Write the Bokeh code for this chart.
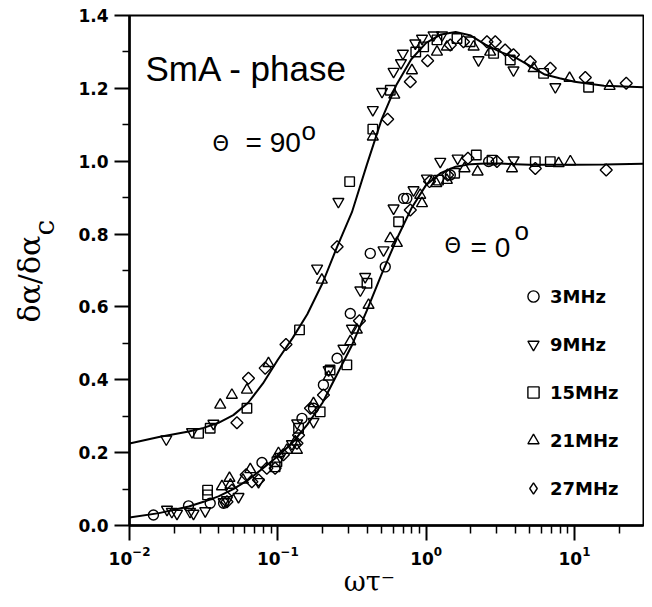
import math
from bokeh.plotting import figure
from bokeh.layouts import row
from bokeh.models import (FixedTicker, PrintfTickFormatter, LogTickFormatter, Label,
                          Legend, LegendItem)
from bokeh.embed import file_html
from bokeh.resources import INLINE

# ---------------- data ----------------
# fitted curves
curve_x = [0.01, 0.0158, 0.0251, 0.0316, 0.0398, 0.0501, 0.0631, 0.0794, 0.1, 0.126,
           0.158, 0.2, 0.251, 0.316, 0.398, 0.501, 0.631, 0.794, 1.0, 1.26, 1.58, 2.0,
           2.51, 3.16, 3.98, 5.01, 6.31, 7.94, 10.0, 15.8, 29.2]
fit_90 = [0.225, 0.243, 0.258, 0.268, 0.282, 0.303, 0.337, 0.39, 0.455, 0.515, 0.58,
          0.665, 0.765, 0.86, 0.99, 1.115, 1.21, 1.28, 1.325, 1.348, 1.355, 1.345, 1.32,
          1.30, 1.285, 1.262, 1.238, 1.228, 1.218, 1.207, 1.203]
fit_0 = [0.022, 0.034, 0.052, 0.065, 0.08, 0.10, 0.125, 0.157, 0.19, 0.228, 0.277,
         0.337, 0.415, 0.495, 0.59, 0.69, 0.785, 0.87, 0.935, 0.968, 0.985, 0.992, 0.994,
         0.994, 0.992, 0.99, 0.99, 0.99, 0.99, 0.991, 0.993]

# 3 MHz (circles), theta = 0
f3_x_0 = [0.0145, 0.0250, 0.0350, 0.0431, 0.0782, 0.1455, 0.174, 0.203, 0.251, 0.308,
          0.420, 0.530, 0.705, 0.741, 1.455, 2.64]
f3_y_0 = [0.029, 0.054, 0.061, 0.061, 0.173, 0.294, 0.322, 0.386, 0.459, 0.582,
          0.747, 0.710, 0.898, 0.898, 0.962, 0.999]

# 9 MHz (inverted triangles)
f9_x_0 = [0.0179, 0.0193, 0.0209, 0.0256, 0.0270, 0.0324, 0.0431, 0.0454, 0.0543, 0.0741,
          0.1038, 0.1245, 0.135, 0.174, 0.220, 0.277, 0.316, 0.360, 0.388, 0.516, 0.603,
          0.822, 1.012, 1.245, 1.63, 3.89]
f9_y_0 = [0.044, 0.038, 0.033, 0.038, 0.033, 0.040, 0.065, 0.070, 0.079, 0.120,
          0.189, 0.224, 0.281, 0.285, 0.427, 0.486, 0.541, 0.646, 0.683, 0.756, 0.871,
          0.921, 0.953, 0.999, 1.008, 1.003]
f9_x_90 = [0.0177, 0.0264, 0.0368, 0.184, 0.256, 0.437, 0.504, 0.603, 0.676, 0.697,
           0.845, 0.938, 1.122, 1.279, 2.254, 3.88, 7.43]
f9_y_90 = [0.237, 0.257, 0.280, 0.706, 0.889, 1.141, 1.191, 1.246, 1.270, 1.296,
           1.324, 1.337, 1.346, 1.346, 1.278, 1.250, 1.204]

# 15 MHz (squares)
f15_x_0 = [0.0336, 0.0336, 0.0959, 0.0986, 0.138, 0.193, 0.225, 0.292, 0.399, 0.652,
           1.211, 1.556, 2.178, 2.78, 5.445, 6.87]
f15_y_0 = [0.097, 0.084, 0.161, 0.175, 0.267, 0.312, 0.427, 0.441, 0.665, 0.834,
           0.948, 0.967, 1.017, 1.003, 0.999, 0.999]
f15_x_90 = [0.0292, 0.0350, 0.0619, 0.140, 0.305, 0.437, 0.573, 0.851, 0.962, 1.183,
            1.614, 1.98, 2.85, 3.69, 6.19, 12.45]
f15_y_90 = [0.253, 0.267, 0.322, 0.537, 0.944, 1.088, 1.195, 1.300, 1.314, 1.333,
            1.337, 1.328, 1.296, 1.278, 1.241, 1.203]

# 21 MHz (triangles)
f21_x_0 = [0.0420, 0.0472, 0.0479, 0.0582, 0.0652, 0.101, 0.115, 0.131, 0.1346, 0.174,
           0.220, 0.308, 0.341, 0.409, 0.573, 0.635, 0.912, 0.938, 1.17, 1.38, 1.815,
           2.223, 3.79, 7.82, 9.38]
f21_y_0 = [0.107, 0.130, 0.111, 0.125, 0.154, 0.198, 0.207, 0.230, 0.207, 0.335,
           0.408, 0.505, 0.537, 0.605, 0.788, 0.775, 0.907, 0.884, 0.939, 0.948, 0.980,
           0.971, 0.980, 0.994, 0.999]
f21_x_90 = [0.0409, 0.0490, 0.0619, 0.0865, 0.198, 0.437, 0.610, 0.802, 1.183, 1.38,
            2.09, 2.70, 5.30, 9.27, 17.26]
f21_y_90 = [0.331, 0.358, 0.372, 0.445, 0.674, 1.067, 1.182, 1.249, 1.300, 1.314,
            1.314, 1.300, 1.255, 1.228, 1.206]

# 27 MHz (diamonds)
f27_x_0 = [0.0454, 0.0490, 0.0612, 0.0668, 0.0741, 0.0843, 0.0959, 0.109, 0.1346, 0.138,
           0.166, 0.203, 0.355, 0.782, 1.054, 1.396, 1.914, 3.0, 5.445, 16.37]
f27_y_0 = [0.065, 0.097, 0.139, 0.120, 0.125, 0.157, 0.157, 0.194, 0.226, 0.248,
           0.322, 0.358, 0.562, 0.866, 0.944, 0.962, 1.008, 0.999, 0.980, 0.976]
f27_x_90 = [0.0530, 0.0634, 0.0822, 0.1135, 0.251, 0.550, 0.782, 1.023, 1.455, 1.786,
            2.57, 2.924, 3.41, 3.88, 5.035, 6.87, 11.83, 22.34]
f27_y_90 = [0.282, 0.404, 0.432, 0.497, 0.765, 1.115, 1.218, 1.276, 1.319, 1.328,
            1.328, 1.328, 1.305, 1.292, 1.273, 1.255, 1.230, 1.214]

series_labels = ["3MHz", "9MHz", "15MHz", "21MHz", "27MHz"]

x_major = [0.01, 0.1, 1.0, 10.0]
x_minor = [0.02, 0.03, 0.04, 0.05, 0.06, 0.07, 0.08, 0.09,
           0.2, 0.3, 0.4, 0.5, 0.6, 0.7, 0.8, 0.9,
           2, 3, 4, 5, 6, 7, 8, 9, 20]
y_major = [0.0, 0.2, 0.4, 0.6, 0.8, 1.0, 1.2, 1.4]
y_minor = [0.1, 0.3, 0.5, 0.7, 0.9, 1.1, 1.3]

# ---------------- main figure ----------------
p = figure(width=574, height=599, x_axis_type="log", x_range=(0.01, 29.2), y_range=(0, 1.4),
           output_backend="svg", toolbar_location=None,
           min_border_left=59, min_border_right=1, min_border_top=15, min_border_bottom=74)
p.background_fill_color = "white"
p.border_fill_color = "white"
p.xgrid.visible = False
p.ygrid.visible = False
p.outline_line_color = "black"
p.outline_line_width = 2

p.xaxis.ticker = FixedTicker(ticks=x_major, minor_ticks=x_minor)
p.xaxis.formatter = LogTickFormatter()
p.yaxis.ticker = FixedTicker(ticks=y_major, minor_ticks=y_minor)
p.yaxis.formatter = PrintfTickFormatter(format="%.1f")

for ax in (p.xaxis[0], p.yaxis[0]):
    ax.axis_line_width = 2.5
    ax.major_tick_line_width = 2
    ax.minor_tick_line_width = 1.5
    ax.major_tick_in = 0
    ax.minor_tick_in = 0
    ax.major_tick_out = 15
    ax.major_label_text_font = "DejaVu Sans"
    ax.major_label_text_font_style = "bold"
    ax.major_label_text_font_size = "17px"
    ax.major_label_text_color = "black"
p.yaxis.axis_label = None
p.xaxis.major_label_standoff = 5
p.yaxis.major_label_standoff = 6
p.xaxis.minor_tick_out = 8
p.yaxis.minor_tick_out = 7

# x-axis title (trailing no-break spaces move it a little left of centre, as in the original)
p.xaxis.axis_label = "\u03c9\u03c4\u207b" + "\u00a0" * 4
p.xaxis.axis_label_text_font = "DejaVu Serif"
p.xaxis.axis_label_text_font_style = "normal"
p.xaxis.axis_label_text_font_size = "27px"
p.xaxis.axis_label_text_color = "black"
p.xaxis.axis_label_standoff = -2

# curves
p.line(curve_x, fit_90, line_color="black", line_width=2)
p.line(curve_x, fit_0, line_color="black", line_width=2)

mk = dict(fill_color=None, line_color="black", line_width=1.4)
r3 = p.scatter(f3_x_0, f3_y_0, marker="circle", size=10, **mk)
r9 = p.scatter(f9_x_0 + f9_x_90, f9_y_0 + f9_y_90, marker="inverted_triangle", size=11, **mk)
r15 = p.scatter(f15_x_0 + f15_x_90, f15_y_0 + f15_y_90, marker="square", size=9.5, **mk)
r21 = p.scatter(f21_x_0 + f21_x_90, f21_y_0 + f21_y_90, marker="triangle", size=11, **mk)
r27 = p.scatter(f27_x_0 + f27_x_90, f27_y_0 + f27_y_90, marker="square", angle=math.pi / 4,
                size=8.5, **mk)
# hidden copy drawn as diamonds, only used for the legend swatch
r27_key = p.scatter(f27_x_0 + f27_x_90, f27_y_0 + f27_y_90, marker="diamond", size=12,
                    visible=False, **mk)

legend = Legend(items=[LegendItem(label=lab, renderers=[r])
                       for lab, r in zip(series_labels, [r3, r9, r15, r21, r27_key])],
                location=(390, 23), orientation="vertical",
                glyph_width=28, glyph_height=28, label_height=20, spacing=20,
                padding=0, margin=0, label_standoff=3,
                border_line_color=None, background_fill_alpha=0,
                inactive_fill_alpha=0,
                label_text_font="DejaVu Sans", label_text_font_style="bold",
                label_text_font_size="18px", label_text_color="black")
p.add_layout(legend)


def add_text(fig, text, sx, sy, size, font="Liberation Sans", angle=0.0):
    fig.add_layout(Label(x=sx, y=sy, x_units="screen", y_units="screen", text=text,
                         text_font=font, text_font_size=f"{size}px", text_font_style="normal",
                         text_color="black", text_align="left", text_baseline="alphabetic",
                         angle=angle))


add_text(p, "SmA - phase", 16, 457, 35)
add_text(p, "\u0398", 83, 382, 21, font="DejaVu Sans")
add_text(p, "= 90", 116, 383, 28)
add_text(p, "o", 172, 395, 26)
add_text(p, "\u0398", 315, 280, 21, font="DejaVu Sans")
add_text(p, "= 0", 341, 278, 28)
add_text(p, "o", 385, 295, 26)

# y-axis title in a narrow strip to the left (its frame lines up with the main frame)
ylab = figure(width=70, height=599, output_backend="svg", toolbar_location=None,
              x_axis_type=None, y_axis_type=None, min_border=0,
              x_range=(0, 1), y_range=(0, 1))
ylab.outline_line_color = None
ylab.border_fill_color = "white"
ylab.background_fill_color = "white"
add_text(ylab, "\u03b4\u03b1/\u03b4\u03b1", 29, 203, 30, font="DejaVu Serif", angle=math.pi / 2)
add_text(ylab, "c", 44, 290, 28, font="DejaVu Serif", angle=math.pi / 2)

layout = row(ylab, p, spacing=0)

open("out.html", "w").write(file_html(layout, INLINE))
